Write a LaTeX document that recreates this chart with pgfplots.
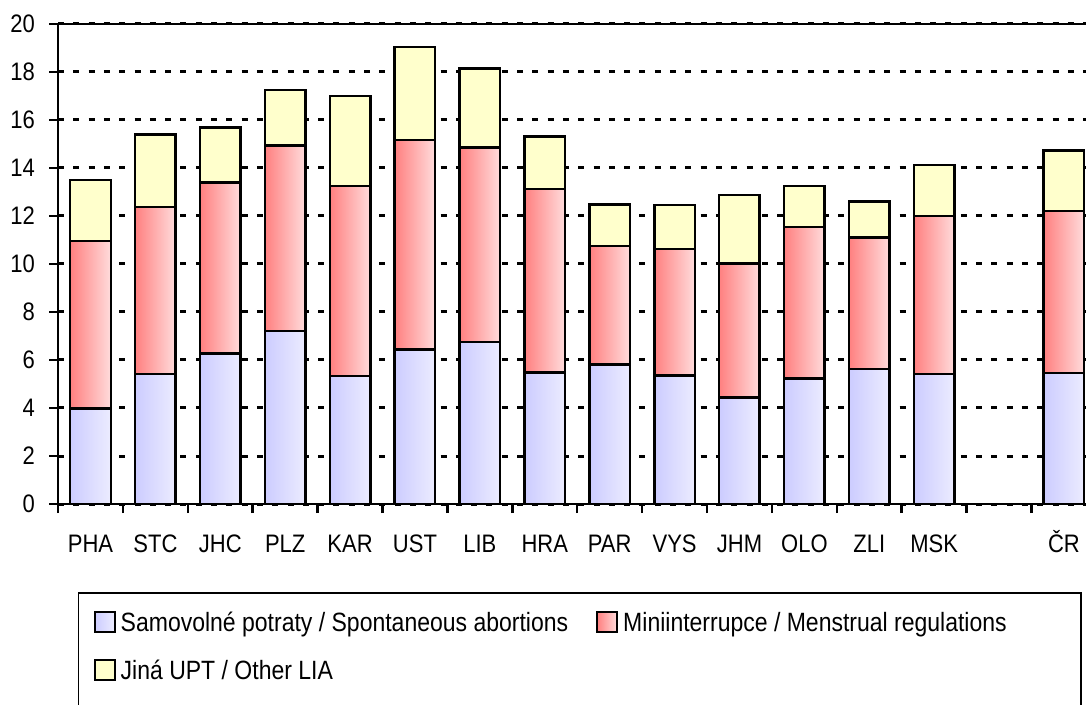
\documentclass[border=0pt]{standalone}
\usepackage{pgfplots}
\pgfplotsset{compat=1.18}
\usepackage{fontspec}
\setmainfont{Liberation Sans}
\usepackage{graphicx}
\definecolor{blueL}{RGB}{204,204,255}
\definecolor{blueR}{RGB}{236,236,255}
\definecolor{redL}{RGB}{255,128,128}
\definecolor{redR}{RGB}{255,220,220}
\definecolor{yel}{RGB}{255,255,204}
\newcommand{\st}[1]{\scalebox{1}[1.15]{#1}}
\pgfplotsset{
  lgbox/.style={legend image code/.code={\draw[##1, draw=black, line width=2pt] (0pt,-0.5pt) rectangle (20pt,19.5pt); \path[draw=none, fill=none] (0pt,-5pt) -- (0pt,19pt);}},
  lgboxlast/.style={legend image code/.code={\draw[##1, draw=black, line width=2pt] (0pt,-0.5pt) rectangle (20pt,19.5pt); \path[draw=none, fill=none] (0pt,-18pt) -- (0pt,19pt);}},
  barbase/.style={ybar, bar shift=0pt, bar width=40.5pt, draw=black, line width=2.5pt, forget plot},
}
% one bar per call, so that each bar gets its own left-to-right shading
% (values are cumulative tops of the stacked segments)
\newcommand{\ybarY}[2]{\addplot[barbase, fill=yel] coordinates {(#1,#2)};}
\newcommand{\ybarR}[2]{\addplot[barbase, left color=redL, right color=redR] coordinates {(#1,#2)};}
\newcommand{\ybarB}[2]{\addplot[barbase, left color=blueL, right color=blueR] coordinates {(#1,#2)};}
\begin{document}
\begin{tikzpicture}
\path[use as bounding box] (0,0) rectangle (1086pt,704pt);
\begin{axis}[
  at={(58.05pt,200pt)}, anchor=south west,
  scale only axis, width=1038.4pt, height=480pt,
  xmin=-0.5, xmax=15.5, ymin=0, ymax=20,
  xtick={-0.5,0.5,...,14.5}, xticklabels={},
  extra x ticks={0,1,2,3,4,5,6,7,8,9,10,11,12,13,15},
  extra x tick labels={\st{PHA},\st{STC},\st{JHC},\st{PLZ},\st{KAR},\st{UST},\st{LIB},\st{HRA},\st{PAR},\st{VYS},\st{JHM},\st{OLO},\st{ZLI},\st{MSK},\st{ČR}},
  extra x tick style={major tick length=0pt, grid=none},
  ytick={0,2,...,20},
  tick align=outside, xtick pos=bottom, ytick pos=left,
  major tick length=9pt,
  tick style={black, line width=2.5pt},
  axis line style={black, line width=2.5pt},
  ymajorgrids,
  major grid style={black, line width=3pt, dash pattern=on 6pt off 9.3pt},
  font=\fontsize{22pt}{26pt}\selectfont,
  /pgf/number format/assume math mode=true,
  yticklabel={\st{\pgfmathprintnumber{\tick}}},
  yticklabel style={anchor=east, inner sep=0pt, xshift=-14pt},
  xticklabel style={anchor=base, inner sep=0pt, yshift=-48pt},
  legend columns=2,
  legend style={
    at={(0.0192,-0.18333)}, anchor=north west,
    draw=black, line width=1.5pt,
    inner xsep=15pt, inner ysep=18pt,
    row sep=23pt,
    font=\fontsize{23pt}{27pt}\selectfont,
    cells={anchor=base west},
    nodes={inner sep=0pt, text height=19pt, text depth=5pt},
    /tikz/every odd column/.append style={column sep=5pt},
    /tikz/every even column/.append style={column sep=28pt},
  },
]
\addlegendimage{lgbox, left color=blueL, right color=blueR}
\addlegendentry{\st{Samovolné potraty / Spontaneous abortions}}
\addlegendimage{lgbox, left color=redL, right color=redR}
\addlegendentry{\st{Miniinterrupce / Menstrual regulations}\hspace*{59pt}}
\addlegendimage{lgboxlast, fill=yel}
\addlegendentry{\st{Jiná UPT / Other LIA}}
% totals (top of Jina UPT / Other LIA)
\ybarY{0}{13.51}\ybarY{1}{15.39}\ybarY{2}{15.69}\ybarY{3}{17.24}\ybarY{4}{17.00}
\ybarY{5}{19.04}\ybarY{6}{18.14}\ybarY{7}{15.32}\ybarY{8}{12.47}\ybarY{9}{12.46}
\ybarY{10}{12.88}\ybarY{11}{13.24}\ybarY{12}{12.61}\ybarY{13}{14.13}\ybarY{15}{14.72}
% top of Miniinterrupce / Menstrual regulations
\ybarR{0}{10.96}\ybarR{1}{12.38}\ybarR{2}{13.40}\ybarR{3}{14.93}\ybarR{4}{13.26}
\ybarR{5}{15.17}\ybarR{6}{14.85}\ybarR{7}{13.13}\ybarR{8}{10.75}\ybarR{9}{10.63}
\ybarR{10}{10.03}\ybarR{11}{11.55}\ybarR{12}{11.10}\ybarR{13}{12.01}\ybarR{15}{12.21}
% Samovolne potraty / Spontaneous abortions
\ybarB{0}{3.97}\ybarB{1}{5.42}\ybarB{2}{6.28}\ybarB{3}{7.20}\ybarB{4}{5.33}
\ybarB{5}{6.43}\ybarB{6}{6.76}\ybarB{7}{5.47}\ybarB{8}{5.82}\ybarB{9}{5.35}
\ybarB{10}{4.43}\ybarB{11}{5.22}\ybarB{12}{5.63}\ybarB{13}{5.42}\ybarB{15}{5.45}
\end{axis}
\end{tikzpicture}
\end{document}
